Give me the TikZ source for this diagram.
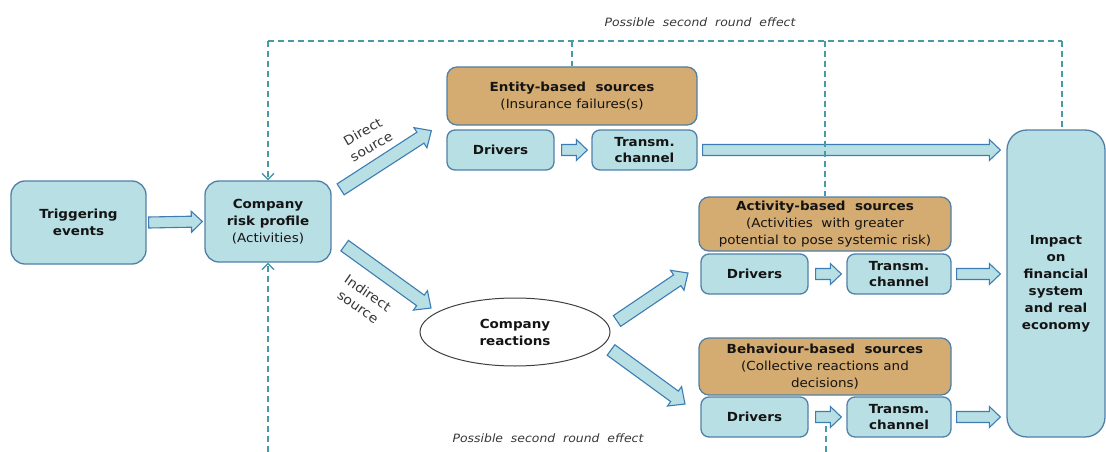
\documentclass[tikz,border=0pt]{standalone}
\usepackage{fontspec}
\setmainfont[FakeStretch=1.08]{DejaVu Sans}
\usetikzlibrary{calc,shapes.geometric,arrows.meta}
\definecolor{boxfill}{RGB}{184,223,228}
\definecolor{boxline}{RGB}{80,128,168}
\definecolor{tanfill}{RGB}{212,171,112}
\definecolor{arrline}{RGB}{60,125,180}
\definecolor{dashc}{RGB}{70,155,165}
\definecolor{txt}{RGB}{20,20,20}
\def\bsw{5.5pt}\def\bhw{10.5pt}\def\bhl{11pt}
\begin{document}
\begin{tikzpicture}[x=1pt,y=-1pt,
  box/.style={draw=boxline, fill=boxfill, line width=1.3pt, rounded corners=8pt, align=center,
    inner sep=0pt, text=txt, font=\fontsize{12.5}{17}\selectfont},
  tanbox/.style={box, fill=tanfill},
  bsz/.style n args={3}{/utils/exec={\def\bsw{#1}\def\bhw{#2}\def\bhl{#3}}},
  barrow/.style={draw=arrline, fill=boxfill, line width=1.1pt, line join=miter,
    to path={let \p1=($(\tikztotarget)!\bhl!(\tikztostart)$) in
      ($(\tikztostart)!\bsw!90:(\tikztotarget)$) --
      ($(\p1)!\bsw!-90:(\tikztostart)$) --
      ($(\p1)!\bhw!-90:(\tikztostart)$) --
      (\tikztotarget) --
      ($(\p1)!\bhw!90:(\tikztostart)$) --
      ($(\p1)!\bsw!90:(\tikztostart)$) --
      ($(\tikztostart)!\bsw!-90:(\tikztotarget)$) -- cycle}},
  dashl/.style={draw=dashc, line width=1.4pt, dash pattern=on 6pt off 4pt},
  dtip/.style={-{Straight Barb[length=6pt,width=12pt,line width=1.4pt]}},
  lab/.style={text=txt!85, font=\fontsize{11.5}{14}\selectfont\itshape},
  slab/.style={text=txt!85, align=center, inner sep=0pt, font=\fontsize{13}{17}\selectfont},
]
\useasboundingbox (0,0) rectangle (1106,452);

% nodes
\node[box, rounded corners=14pt, minimum width=135pt, minimum height=83pt] (trig) at (78.5,222.5)
  {\textbf{Triggering}\\\textbf{events}};
\node[box, rounded corners=14pt, minimum width=126pt, minimum height=81pt] (comp) at (268,221.5)
  {\textbf{Company}\\\textbf{risk profile}\\(Activities)};
\node[tanbox, rounded corners=10pt, minimum width=250pt, minimum height=58pt] (ent) at (572,96)
  {\textbf{Entity-based\ \ sources}\\(Insurance failures(s)};
\node[box, minimum width=107pt, minimum height=40pt] (d1) at (500.5,150) {\textbf{Drivers}};
\node[box, minimum width=105pt, minimum height=40pt] (t1) at (644.5,150) {\textbf{Transm.}\\[-1pt]\textbf{channel}};
\node[box, rounded corners=20pt, minimum width=98pt, minimum height=307pt] (imp) at (1056,283.5)
  {\textbf{Impact}\\\textbf{on}\\\textbf{financial}\\\textbf{system}\\\textbf{and real}\\\textbf{economy}};
\node[tanbox, rounded corners=10pt, minimum width=252pt, minimum height=54pt] (act) at (825,224)
  {\textbf{Activity-based\ \ sources}\\(Activities\ \ with greater\\potential to pose systemic risk)};
\node[box, minimum width=107pt, minimum height=40pt] (d2) at (754.5,274) {\textbf{Drivers}};
\node[box, minimum width=104pt, minimum height=40pt] (t2) at (899,274) {\textbf{Transm.}\\[-1pt]\textbf{channel}};
\node[tanbox, rounded corners=10pt, minimum width=252pt, minimum height=57pt] (beh) at (825,366.5)
  {\textbf{Behaviour-based\ \ sources}\\(Collective reactions and\\decisions)};
\node[box, minimum width=107pt, minimum height=40pt] (d3) at (754.5,417) {\textbf{Drivers}};
\node[box, minimum width=104pt, minimum height=40pt] (t3) at (899,417) {\textbf{Transm.}\\[-1pt]\textbf{channel}};
\node[ellipse, draw=black!75, fill=white, line width=1pt, minimum width=190pt, minimum height=68pt,
  align=center, text=txt, font=\fontsize{12.5}{17}\selectfont] (react) at (515,332)
  {\textbf{Company}\\\textbf{reactions}};

% block arrows
\draw[barrow] ([xshift=2pt]trig.east) to ([xshift=-2pt]comp.west);
\draw[barrow] ([xshift=7pt]d1.east) to ([xshift=-4pt]t1.west);
\draw[barrow] ([xshift=5pt]t1.east) to ($(imp.west |- t1.east)+(-6,0)$);
\draw[barrow] ([xshift=7pt]d2.east) to ([xshift=-5pt]t2.west);
\draw[barrow] ([xshift=5pt]t2.east) to ($(imp.west |- t2.east)+(-6,0)$);
\draw[barrow] ([xshift=7pt]d3.east) to ([xshift=-5pt]t3.west);
\draw[barrow] ([xshift=5pt]t3.east) to ($(imp.west |- t3.east)+(-6,0)$);

\coordinate (ds) at ($(comp.north east)+(9,9)$);
\coordinate (de) at ($(ent.south west)+(-15,5)$);
\coordinate (is) at ($(comp.south east)+(13,-17)$);
\coordinate (ie) at (431,308);
\coordinate (as) at (617,321);
\coordinate (ae) at (688,273);
\coordinate (bs) at (611,350);
\coordinate (be) at (685,404);
\draw[barrow, bsz={6.5pt}{12pt}{13pt}] (ds) to (de);
\draw[barrow, bsz={6.5pt}{12pt}{13pt}] (is) to (ie);
\draw[barrow, bsz={6.5pt}{12pt}{13pt}] (as) to (ae);
\draw[barrow, bsz={6.5pt}{12pt}{13pt}] (bs) to (be);

% labels
\node[slab, rotate=30] (lds) at (367,139) {Direct\\source};
\node[slab, rotate=-35] (lis) at (363,300) {Indirect\\source};
\node[lab] (ltop) at (700,22) {Possible\ \ second\ \ round\ \ effect};
\node[lab] (lbot) at (548,438) {Possible\ \ second\ \ round\ \ effect};

% dashed feedback lines
\coordinate (tl) at (268,41);
\coordinate (tr) at ($(imp.north)+(6,0)$);
\draw[dashl] (tl) -- (tr |- tl);
\draw[dashl, dtip] (tl) -- (comp.north);
\draw[dashl] (ent.north |- tl) -- (ent.north);
\draw[dashl] (act.north |- tl) -- (act.north);
\draw[dashl] (tr |- tl) -- (tr);
\coordinate (bl) at (268,452);
\draw[dashl, dtip] (bl) -- (comp.south);
\coordinate (br) at (826,452);
\coordinate (brtop) at (826,425);
\draw[dashl] (br) -- (brtop);
\end{tikzpicture}
\end{document}
